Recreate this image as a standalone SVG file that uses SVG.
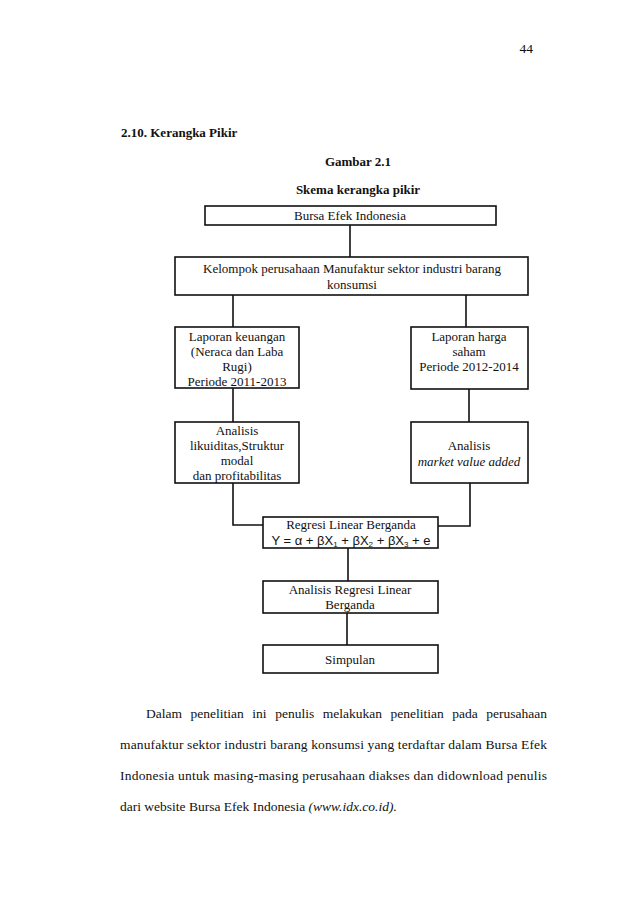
<svg xmlns="http://www.w3.org/2000/svg" width="638" height="904" viewBox="0 0 638 904">
<style>
text{font-family:"Liberation Serif","Times New Roman",serif;fill:#111;}
.t{font-size:13px;text-anchor:middle;}
.p{font-size:13.5px;}
.h{font-size:13px;font-weight:bold;}
.box{fill:#fff;stroke:#111;stroke-width:1.6;}
.ln{fill:none;stroke:#111;stroke-width:1.6;}
.sans{font-family:"Liberation Sans",Arial,sans-serif;}
</style>
<rect width="638" height="904" fill="#fff"/>
<text x="533" y="53" class="p" text-anchor="end">44</text>
<text x="121" y="137" class="h">2.10. Kerangka Pikir</text>
<text x="358" y="166" class="h" text-anchor="middle">Gambar 2.1</text>
<text x="358" y="194" class="h" text-anchor="middle">Skema kerangka pikir</text>

<g id="connectors">
<path class="ln" d="M350 225V257"/>
<path class="ln" d="M233 295V327"/>
<path class="ln" d="M466 295V327"/>
<path class="ln" d="M233 388V422"/>
<path class="ln" d="M469 389V422"/>
<path class="ln" d="M233 483V525H263"/>
<path class="ln" d="M470 483V526H438"/>
<path class="ln" d="M348 548V581"/>
<path class="ln" d="M347 613V645"/>
</g>

<g id="bursa">
<rect class="box" x="205" y="206" width="291" height="19"/>
<text class="t" x="350" y="220">Bursa Efek Indonesia</text>
</g>
<g id="kelompok">
<rect class="box" x="175" y="257" width="353" height="38"/>
<text class="t" x="352" y="273">Kelompok perusahaan Manufaktur sektor industri barang</text>
<text class="t" x="352" y="289">konsumsi</text>
</g>
<g id="laporan-keuangan">
<rect class="box" x="175" y="327" width="124" height="61"/>
<text class="t" x="237" y="341">Laporan keuangan</text>
<text class="t" x="237" y="356">(Neraca dan Laba</text>
<text class="t" x="237" y="371">Rugi)</text>
<text class="t" x="237" y="386">Periode 2011-2013</text>
</g>
<g id="laporan-harga">
<rect class="box" x="411" y="327" width="117" height="62"/>
<text class="t" x="469" y="341">Laporan harga</text>
<text class="t" x="469" y="356">saham</text>
<text class="t" x="469" y="371">Periode 2012-2014</text>
</g>
<g id="analisis-kiri">
<rect class="box" x="175" y="422" width="124" height="61"/>
<text class="t" x="237" y="435">Analisis</text>
<text class="t" x="237" y="450">likuiditas,Struktur</text>
<text class="t" x="237" y="465">modal</text>
<text class="t" x="237" y="480">dan profitabilitas</text>
</g>
<g id="analisis-kanan">
<rect class="box" x="411" y="422" width="117" height="61"/>
<text class="t" x="469" y="450">Analisis</text>
<text class="t" x="469" y="466" font-style="italic">market value added</text>
</g>
<g id="regresi">
<rect class="box" x="263" y="517" width="175" height="31"/>
<text class="t" x="351" y="529">Regresi Linear Berganda</text>
<text class="t sans" x="351" y="545" font-size="12">Y = α + βX<tspan font-size="8" dy="2">1</tspan><tspan dy="-2"> + βX</tspan><tspan font-size="8" dy="2">2</tspan><tspan dy="-2"> + βX</tspan><tspan font-size="8" dy="2">3</tspan><tspan dy="-2"> + e</tspan></text>
</g>
<g id="analisis-regresi">
<rect class="box" x="263" y="581" width="175" height="32"/>
<text class="t" x="350" y="594">Analisis Regresi Linear</text>
<text class="t" x="350" y="609">Berganda</text>
</g>
<g id="simpulan">
<rect class="box" x="263" y="645" width="175" height="28"/>
<text class="t" x="350" y="664">Simpulan</text>
</g>

<g id="paragraph" class="p">
<text class="p" x="146" y="718">Dalam</text>
<text class="p" x="190.6" y="718">penelitian</text>
<text class="p" x="252.3" y="718">ini</text>
<text class="p" x="275.2" y="718">penulis</text>
<text class="p" x="322.8" y="718">melakukan</text>
<text class="p" x="390.5" y="718">penelitian</text>
<text class="p" x="452.3" y="718">pada</text>
<text class="p" x="547" y="718" text-anchor="end">perusahaan</text>
<text class="p" x="120" y="749" textLength="427" lengthAdjust="spacing">manufaktur sektor industri barang konsumsi yang terdaftar dalam Bursa Efek</text>
<text class="p" x="120" y="780" textLength="427" lengthAdjust="spacing">Indonesia untuk masing-masing perusahaan diakses dan didownload penulis</text>
<text class="p" x="120" y="811">dari website Bursa Efek Indonesia <tspan font-style="italic">(www.idx.co.id).</tspan></text>
</g>
</svg>
